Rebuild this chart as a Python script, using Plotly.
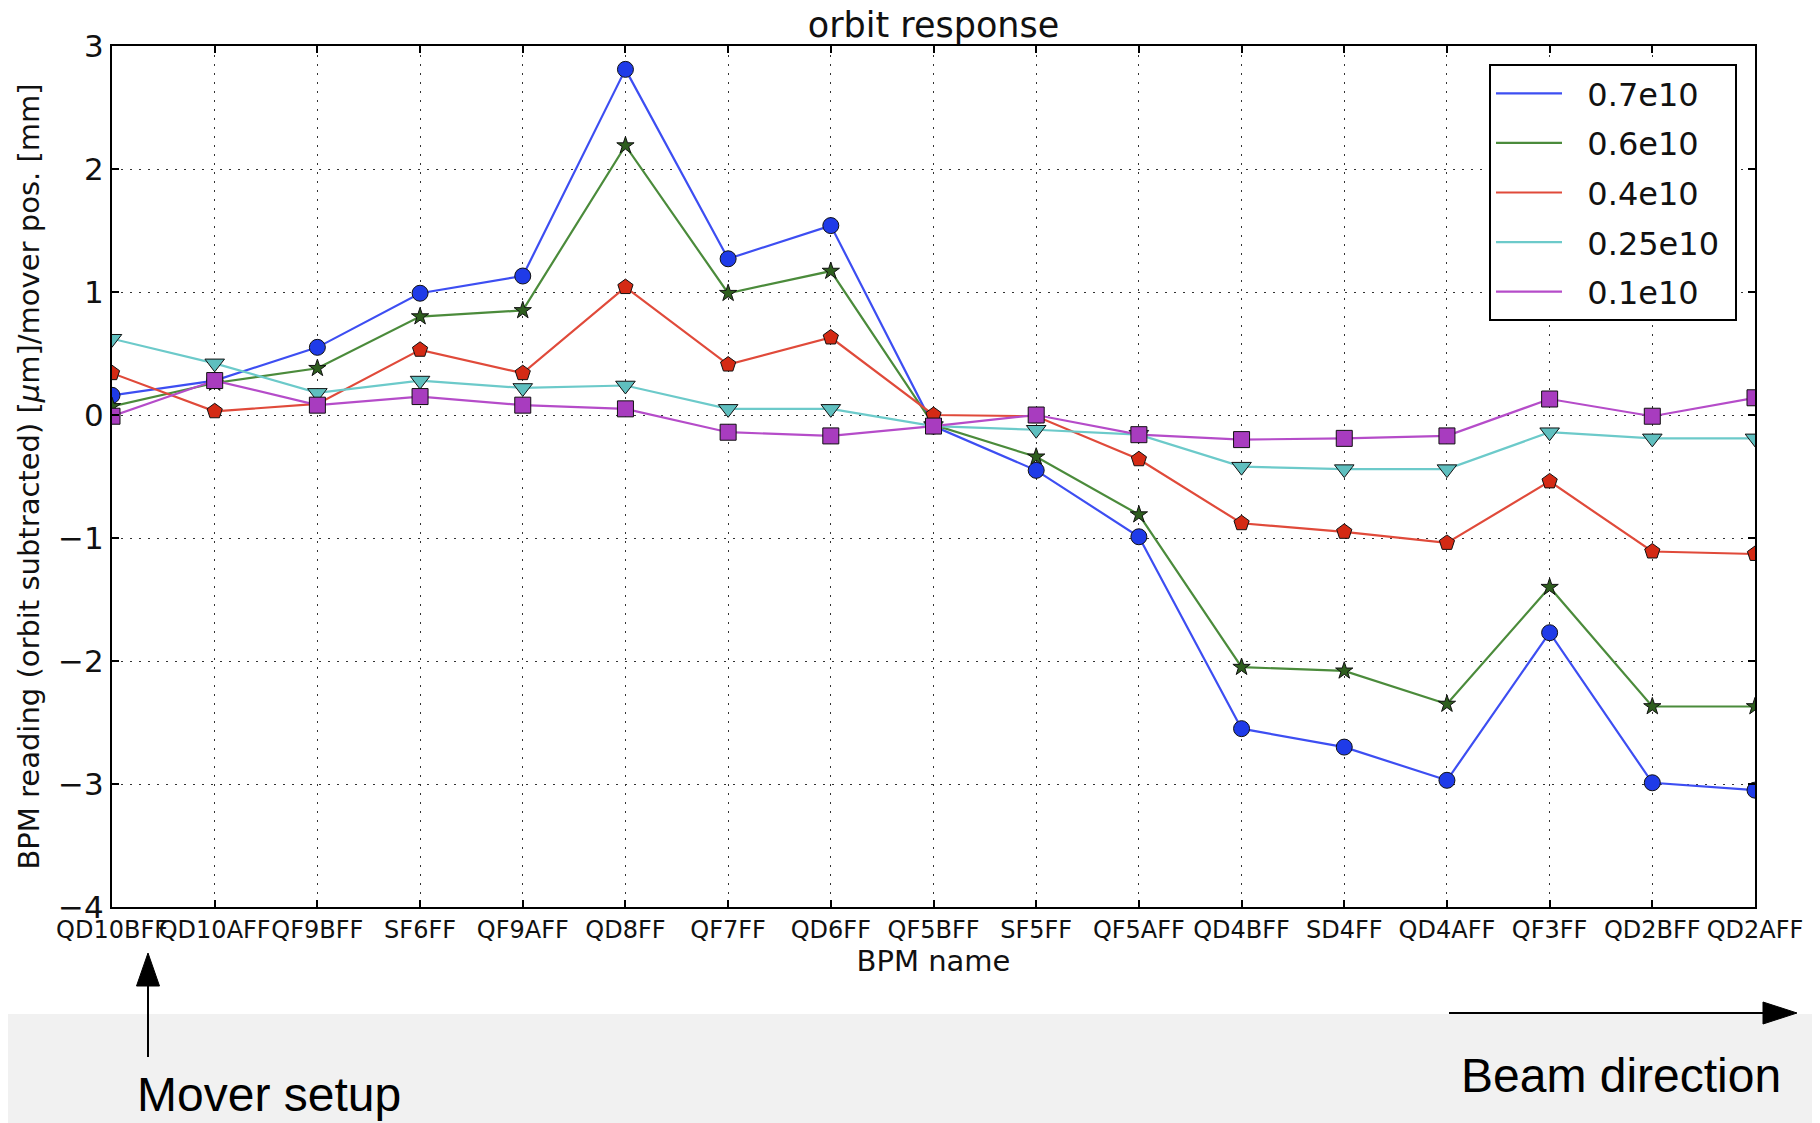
import plotly.graph_objects as go

bpm_names = ["QD10BFF", "QD10AFF", "QF9BFF", "SF6FF", "QF9AFF", "QD8FF", "QF7FF",
             "QD6FF", "QF5BFF", "SF5FF", "QF5AFF", "QD4BFF", "SD4FF", "QD4AFF",
             "QF3FF", "QD2BFF", "QD2AFF"]

series_names = ["0.7e10", "0.6e10", "0.4e10", "0.25e10", "0.1e10"]

y_07 = [0.16, 0.28, 0.55, 0.99, 1.13, 2.81, 1.27, 1.54, -0.09, -0.45, -0.99,
        -2.55, -2.70, -2.97, -1.77, -2.99, -3.05]
y_06 = [0.07, 0.26, 0.38, 0.80, 0.85, 2.19, 0.99, 1.17, -0.08, -0.34, -0.81,
        -2.05, -2.08, -2.35, -1.40, -2.37, -2.37]
y_04 = [0.34, 0.03, 0.09, 0.53, 0.34, 1.04, 0.41, 0.63, 0.00, -0.01, -0.36,
        -0.88, -0.95, -1.04, -0.54, -1.11, -1.13]
y_025 = [0.62, 0.42, 0.18, 0.28, 0.22, 0.24, 0.05, 0.05, -0.09, -0.12, -0.16,
         -0.42, -0.44, -0.44, -0.14, -0.19, -0.19]
y_01 = [-0.01, 0.28, 0.08, 0.15, 0.08, 0.05, -0.14, -0.17, -0.09, 0.00, -0.16,
        -0.20, -0.19, -0.17, 0.13, -0.01, 0.14]

series_values = [y_07, y_06, y_04, y_025, y_01]
line_colors = ["#3d4ef2", "#4b8b3b", "#e04a3a", "#6ccaca", "#b54cc9"]
marker_colors = ["#1f3be8", "#2e5e1e", "#d42a14", "#5fbfbf", "#a83cbf"]
marker_symbols = ["circle", "star", "pentagon", "triangle-down", "square"]
marker_sizes = [16, 13, 16, 17, 16]

y_ticks = [-4, -3, -2, -1, 0, 1, 2, 3]

# the page body adds an 8 px margin, so the figure is 8 px smaller and all
# reference pixel positions are shifted by 8 px
OFF = 8
W, H = 1820 - OFF, 1123 - OFF
L, R, T, B = 112 - OFF, 1755 - OFF, 46 - OFF, 907 - OFF


def px(x):
    return (x - OFF - L) / (R - L)


def py(y):
    return (B - (y - OFF)) / (B - T)


NBSP = "\u00a0\u00a0"

fig = go.Figure()
for name, vals, lc, mc, sym, ms in zip(series_names, series_values, line_colors,
                                       marker_colors, marker_symbols, marker_sizes):
    fig.add_trace(go.Scatter(x=bpm_names, y=vals, mode="lines",
                             name=NBSP + name + "\u00a0",
                             legendgroup=name,
                             line=dict(color=lc, width=2.2)))
    fig.add_trace(go.Scatter(x=bpm_names, y=vals, mode="markers", name=name,
                             legendgroup=name, showlegend=False,
                             marker=dict(symbol=sym, size=ms, color=mc,
                                         line=dict(color="#111", width=1))))

font = "DejaVu Sans"

shapes = [
    # grey band at bottom
    dict(type="rect", xref="paper", yref="paper", x0=px(0), x1=px(1830),
         y0=py(1014), y1=py(1130), fillcolor="#f1f1f1", line=dict(width=0),
         layer="below"),
    # up arrow (mover setup)
    dict(type="line", xref="paper", yref="paper", x0=px(148), x1=px(148),
         y0=py(1057), y1=py(985), line=dict(color="black", width=2)),
    dict(type="path", xref="paper", yref="paper",
         path=f"M {px(148)} {py(953)} L {px(136.5)} {py(986)} L {px(159.5)} {py(986)} Z",
         fillcolor="black", line=dict(color="black", width=1)),
    # right arrow (beam direction)
    dict(type="line", xref="paper", yref="paper", x0=px(1449), x1=px(1765),
         y0=py(1013), y1=py(1013), line=dict(color="black", width=2)),
    dict(type="path", xref="paper", yref="paper",
         path=f"M {px(1797)} {py(1013)} L {px(1763)} {py(1002)} L {px(1763)} {py(1024)} Z",
         fillcolor="black", line=dict(color="black", width=1)),
]

annotations = [
    dict(text="Mover setup", xref="paper", yref="paper", x=px(136), y=py(1122),
         xanchor="left", yanchor="bottom", showarrow=False, borderpad=0,
         font=dict(family="Liberation Sans", size=48, color="black")),
    dict(text="Beam direction", xref="paper", yref="paper", x=px(1460), y=py(1103),
         xanchor="left", yanchor="bottom", showarrow=False, borderpad=0,
         font=dict(family="Liberation Sans", size=48, color="black")),
]

fig.update_layout(
    width=W, height=H,
    margin=dict(l=L, r=W - R, t=T, b=H - B, pad=0, autoexpand=False),
    paper_bgcolor="white", plot_bgcolor="white",
    title=dict(text="orbit response", x=(L + R) / 2 / W, xanchor="center",
               y=1, yanchor="top", yref="container", pad=dict(t=4),
               font=dict(family=font, size=35, color="#111")),
    font=dict(family=font, color="#111"),
    showlegend=True,
    legend=dict(x=px(1737), y=py(64), xanchor="right", yanchor="top",
                bgcolor="white", bordercolor="black", borderwidth=2,
                font=dict(family=font, size=32, color="#111"),
                traceorder="grouped", tracegroupgap=5, itemwidth=66),
    shapes=shapes,
    annotations=annotations,
)

fig.update_xaxes(
    type="category", range=[0, len(bpm_names) - 1], automargin=False,
    showline=True, linecolor="black", linewidth=2, mirror="ticks",
    ticks="inside", ticklen=7, tickwidth=1.5, tickcolor="black",
    showgrid=True, gridcolor="#333", gridwidth=1, griddash="2px,7px",
    tickfont=dict(family=font, size=24, color="#111"), tickangle=0,
    ticklabelstandoff=0,
    title=dict(text="BPM name", font=dict(family=font, size=29, color="#111"), standoff=8),
    zeroline=False,
)
fig.update_yaxes(
    range=[-4, 3], tickvals=y_ticks, automargin=False,
    showline=True, linecolor="black", linewidth=2, mirror="ticks",
    ticks="inside", ticklen=7, tickwidth=1.5, tickcolor="black",
    showgrid=True, gridcolor="#333", gridwidth=1, griddash="2px,7px",
    tickfont=dict(family=font, size=31, color="#111"),
    ticklabelstandoff=0,
    title=dict(text="BPM reading (orbit subtracted) [<i>μ</i>m]/mover pos. [mm]",
               font=dict(family=font, size=29, color="#111"), standoff=10),
    zeroline=False,
)

fig.write_html("out.html")
